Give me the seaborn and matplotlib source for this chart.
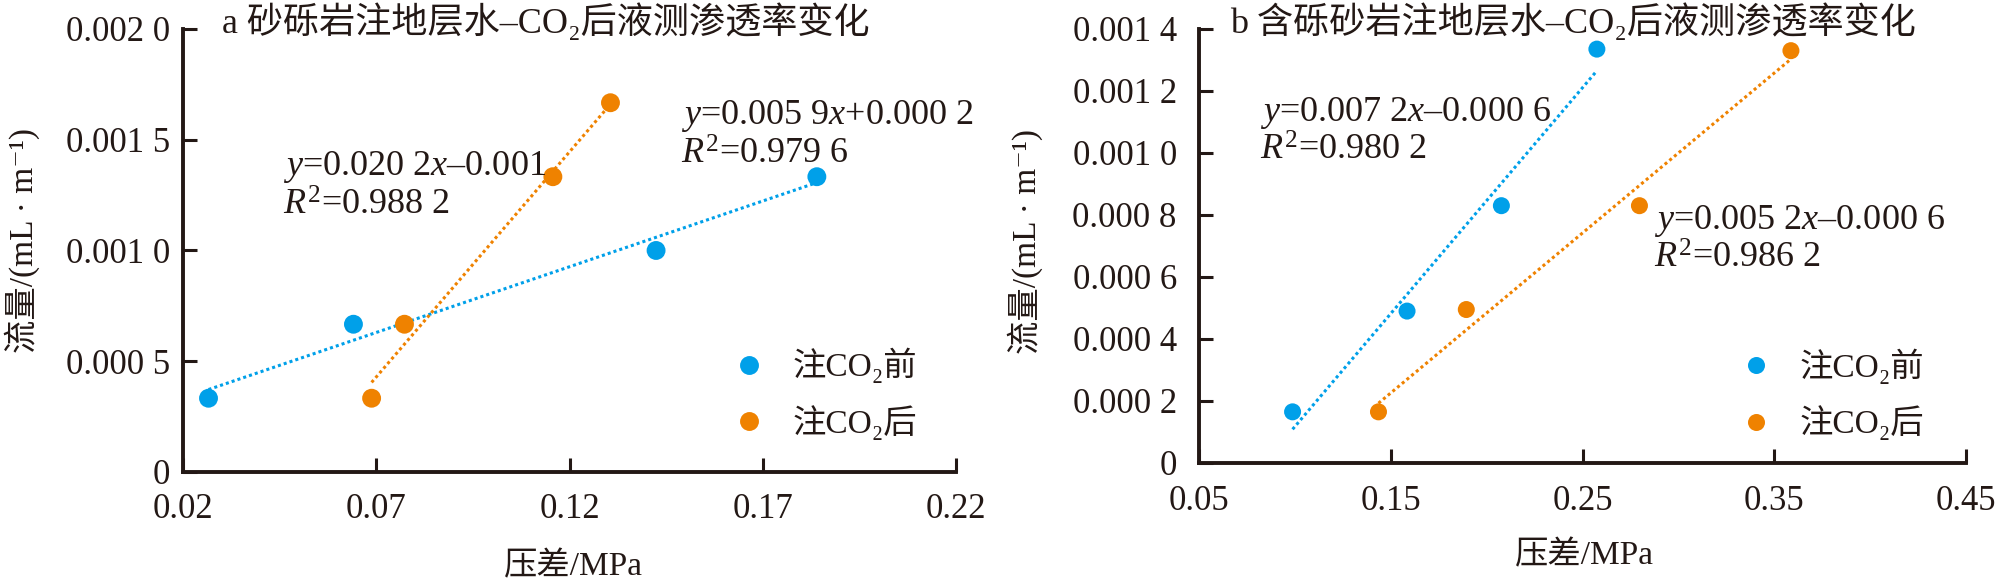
import matplotlib.pyplot as plt
import pandas as pd
import seaborn as sns

# a: 砂砾岩, 压差 (MPa) / 流量 (mL/m)
a_dp_before = [0.0266, 0.0641, 0.1424, 0.1840]
a_q_before = [0.000333, 0.000667, 0.001000, 0.001333]
a_dp_after = [0.0688, 0.0773, 0.1157, 0.1306]
a_q_after = [0.000333, 0.000667, 0.001333, 0.001667]

# b: 含砾砂岩
b_dp_before = [0.0988, 0.1585, 0.2077, 0.2575]
b_q_before = [0.000165, 0.000490, 0.000830, 0.001335]
b_dp_after = [0.1436, 0.1894, 0.2797, 0.3587]
b_q_after = [0.000165, 0.000495, 0.000830, 0.001330]

groups = ['注CO₂前', '注CO₂后']

a_xticks = [0.02, 0.07, 0.12, 0.17, 0.22]
a_xticklabels = ['0.02', '0.07', '0.12', '0.17', '0.22']
a_yticks = [0, 0.0005, 0.0010, 0.0015, 0.0020]
a_yticklabels = ['0', '0.000 5', '0.001 0', '0.001 5', '0.002 0']

b_xticks = [0.05, 0.15, 0.25, 0.35, 0.45]
b_xticklabels = ['0.05', '0.15', '0.25', '0.35', '0.45']
b_yticks = [0, 0.0002, 0.0004, 0.0006, 0.0008, 0.0010, 0.0012, 0.0014]
b_yticklabels = ['0', '0.000 2', '0.000 4', '0.000 6', '0.000 8',
                 '0.001 0', '0.001 2', '0.001 4']

a_title = 'a 砂砾岩注地层水–CO₂后液测渗透率变化'
b_title = 'b 含砾砂岩注地层水–CO₂后液测渗透率变化'
a_eq_before = [r'$y$=0.005 9$x$+0.000 2', r'$R^2$=0.979 6']
a_eq_after = [r'$y$=0.020 2$x$–0.001', r'$R^2$=0.988 2']
b_eq_before = [r'$y$=0.007 2$x$–0.000 6', r'$R^2$=0.980 2']
b_eq_after = [r'$y$=0.005 2$x$–0.000 6', r'$R^2$=0.986 2']

x_label = '压差/MPa'
y_label = '流量/(mL · m⁻¹)'

INK = '#231815'
colors = ['#00A0E9', '#EF8200']

sns.set_theme(style='ticks')
plt.rcParams['font.family'] = ['Liberation Serif', 'Noto Sans CJK SC', 'DejaVu Serif']
plt.rcParams['mathtext.fontset'] = 'custom'
plt.rcParams['mathtext.rm'] = 'Liberation Serif'
plt.rcParams['mathtext.it'] = 'Liberation Serif:italic'
plt.rcParams['text.color'] = INK


def draw_panel(ax, dp_before, q_before, dp_after, q_after, size):
    df = pd.DataFrame({
        'dp': dp_before + dp_after,
        'q': q_before + q_after,
        'group': [groups[0]] * len(dp_before) + [groups[1]] * len(dp_after),
    })
    for g, c in zip(groups, colors):
        sub = df[df['group'] == g]
        sns.regplot(data=sub, x='dp', y='q', ax=ax, scatter=False, ci=None,
                    color=c, line_kws=dict(ls=(0, (1, 1)), lw=2.2))
    sns.scatterplot(data=df, x='dp', y='q', hue='group', palette=colors,
                    s=size, linewidth=0, ax=ax, zorder=3)


def style_axes(ax, xticks, xlabels, yticks, ylabels, xpad, ypad):
    ax.set_xlim(xticks[0], xticks[-1])
    ax.set_ylim(yticks[0], yticks[-1])
    ax.set_xticks(xticks, xlabels)
    ax.set_yticks(yticks, ylabels)
    ax.tick_params(direction='in', length=10, width=2.2, color=INK,
                   labelsize=25, labelcolor=INK)
    ax.tick_params(axis='x', pad=xpad)
    ax.tick_params(axis='y', pad=ypad)
    for side in ['top', 'right']:
        ax.spines[side].set_visible(False)
    for side in ['left', 'bottom']:
        ax.spines[side].set_linewidth(2.8)
        ax.spines[side].set_color(INK)
    ax.set_xlabel(x_label, fontsize=24, color=INK)
    ax.set_ylabel(y_label, fontsize=24, color=INK)
    ax.xaxis.label.set_va('center')
    ax.yaxis.label.set_va('center')
    ax.yaxis.label.set_ha('center')


fig = plt.figure(figsize=(20, 5.84), dpi=100)
ax_a = fig.add_axes([0.0915, 0.1918, 0.3865, 0.7586])
ax_b = fig.add_axes([0.5995, 0.2072, 0.3835, 0.7432])

# panel a
draw_panel(ax_a, a_dp_before, a_q_before, a_dp_after, a_q_after, 185)
style_axes(ax_a, a_xticks, a_xticklabels, a_yticks, a_yticklabels, 15, 9)
ax_a.xaxis.set_label_coords(0.5045, -0.2144)
ax_a.yaxis.set_label_coords(-0.2083, 0.5214)
ax_a.text(0.050, 1.016, a_title, transform=ax_a.transAxes, fontsize=26,
          ha='left', va='center')
for txt, yy in zip(a_eq_before, [0.804, 0.716]):
    ax_a.text(0.644, yy, txt, transform=ax_a.transAxes, fontsize=26, va='center')
for txt, yy in zip(a_eq_after, [0.688, 0.600]):
    ax_a.text(0.129, yy, txt, transform=ax_a.transAxes, fontsize=26, va='center')
sns.move_legend(ax_a, 'center left', bbox_to_anchor=(0.711, 0.176),
                frameon=False, title=None, fontsize=24, handlelength=1,
                handletextpad=0.8, labelspacing=0.65, borderpad=0,
                borderaxespad=0)

# panel b
draw_panel(ax_b, b_dp_before, b_q_before, b_dp_after, b_q_after, 150)
style_axes(ax_b, b_xticks, b_xticklabels, b_yticks, b_yticklabels, 16, 16)
ax_b.xaxis.set_label_coords(0.503, -0.2143)
ax_b.yaxis.set_label_coords(-0.2269, 0.5092)
ax_b.text(0.040, 1.016, b_title, transform=ax_b.transAxes, fontsize=26,
          ha='left', va='center')
for txt, yy in zip(b_eq_before, [0.806, 0.719]):
    ax_b.text(0.080, yy, txt, transform=ax_b.transAxes, fontsize=26, va='center')
for txt, yy in zip(b_eq_after, [0.558, 0.470]):
    ax_b.text(0.593, yy, txt, transform=ax_b.transAxes, fontsize=26, va='center')
sns.move_legend(ax_b, 'center left', bbox_to_anchor=(0.705, 0.158),
                frameon=False, title=None, fontsize=24, handlelength=1,
                handletextpad=0.8, labelspacing=0.65, borderpad=0,
                borderaxespad=0)

fig.savefig('out.png', dpi=100)
